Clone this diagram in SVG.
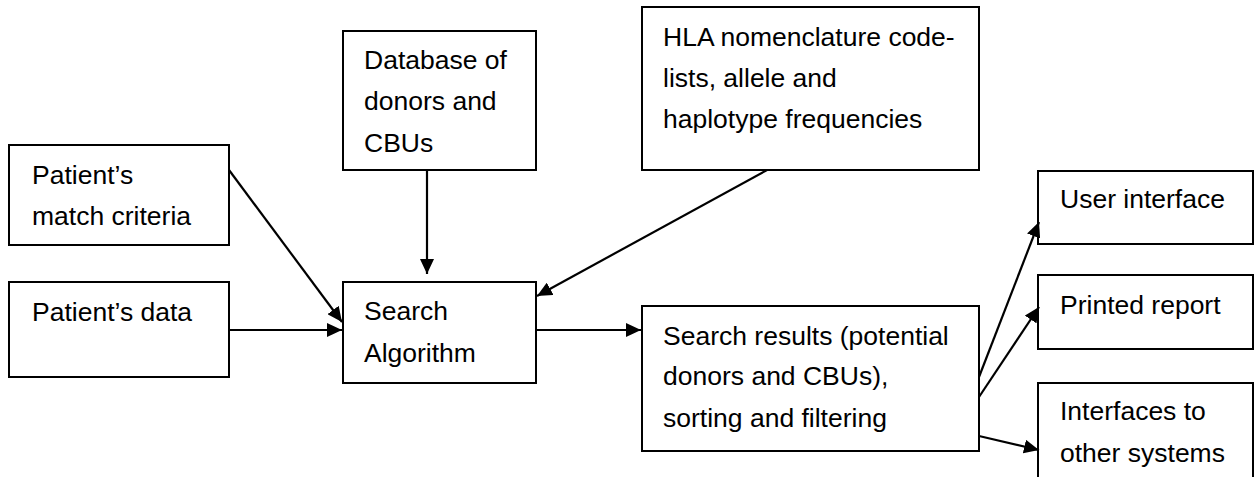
<svg xmlns="http://www.w3.org/2000/svg" width="1254" height="477" viewBox="0 0 1254 477">
<style>
  .box{fill:#fff;stroke:#000;stroke-width:2}
  .t{font-family:"Liberation Sans",Arial,sans-serif;font-size:26.5px;fill:#000}
  .c{stroke:#000;stroke-width:2.2;fill:none;marker-end:url(#ah)}
</style>
<defs>
  <marker id="ah" markerUnits="userSpaceOnUse" markerWidth="16" markerHeight="14" refX="15" refY="7" orient="auto">
    <path d="M0,0 L15,7 L0,14 z" fill="#000"/>
  </marker>
</defs>
<rect width="1254" height="477" fill="#fff"/>
<g id="n1"><rect class="box" x="9" y="145" width="220" height="100"/>
  <text class="t" x="32" y="184">Patient’s</text><text class="t" x="32" y="225">match criteria</text></g>
<g id="n2"><rect class="box" x="9" y="282" width="220" height="95"/>
  <text class="t" x="32" y="321">Patient’s data</text></g>
<g id="n3"><rect class="box" x="343" y="31" width="193" height="139"/>
  <text class="t" x="364" y="69">Database of</text><text class="t" x="364" y="110">donors and</text><text class="t" x="364" y="152">CBUs</text></g>
<g id="n4"><rect class="box" x="343" y="282" width="193" height="101"/>
  <text class="t" x="364" y="320">Search</text><text class="t" x="364" y="362">Algorithm</text></g>
<g id="n5"><rect class="box" x="642" y="7" width="337" height="163"/>
  <text class="t" x="663" y="46">HLA nomenclature code-</text><text class="t" x="663" y="87">lists, allele and</text><text class="t" x="663" y="128">haplotype frequencies</text></g>
<g id="n6"><rect class="box" x="642" y="306" width="337" height="145"/>
  <text class="t" x="663" y="345">Search results (potential</text><text class="t" x="663" y="385">donors and CBUs),</text><text class="t" x="663" y="427">sorting and filtering</text></g>
<g id="n7"><rect class="box" x="1038" y="171" width="215" height="73"/>
  <text class="t" x="1060" y="208">User interface</text></g>
<g id="n8"><rect class="box" x="1038" y="275" width="215" height="74"/>
  <text class="t" x="1060" y="314">Printed report</text></g>
<g id="n9"><rect class="box" x="1038" y="383" width="215" height="100"/>
  <text class="t" x="1060" y="420">Interfaces to</text><text class="t" x="1060" y="462">other systems</text></g>
<g id="connectors">
  <line class="c" x1="229" y1="170" x2="342" y2="322"/>
  <line class="c" x1="229" y1="330" x2="342" y2="330"/>
  <line class="c" x1="427" y1="170" x2="427" y2="274"/>
  <line class="c" x1="767" y1="170" x2="537" y2="296"/>
  <line class="c" x1="536" y1="330" x2="641" y2="330"/>
  <line class="c" x1="979" y1="377" x2="1039" y2="222"/>
  <line class="c" x1="979" y1="397" x2="1039" y2="307"/>
  <line class="c" x1="979" y1="436" x2="1039" y2="450"/>
</g>
</svg>
